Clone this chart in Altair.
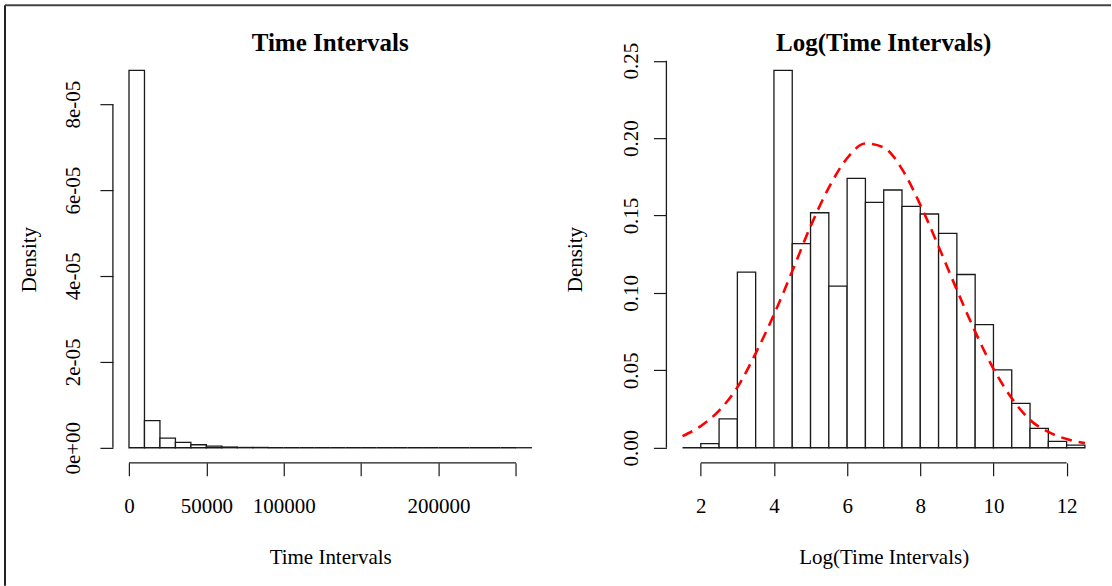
import altair as alt
import pandas as pd

# ---------------- data ----------------
# Left panel: histogram of time intervals (bin width 10000), density
time_bin_start = [0, 10000, 20000, 30000, 40000, 50000, 60000, 70000, 80000, 90000,
                  100000, 110000, 120000, 130000, 140000, 150000, 160000, 170000,
                  180000, 190000, 200000, 210000, 220000, 230000, 240000, 250000]
time_density = [8.79e-05, 6.3e-06, 2.26e-06, 1.23e-06, 7.0e-07, 4.0e-07, 1.6e-07,
                7e-08, 7e-08, 0, 0, 0, 0, 0, 0, 0, 0, 0, 0, 0, 0, 0, 0, 0, 0, 4e-09]
time_bin_width = 10000
time_x_ticks = [0, 50000, 100000, 150000, 200000, 250000]
time_x_hidden = [150000, 250000]
time_y_ticks = [0, 2e-05, 4e-05, 6e-05, 8e-05]

# Right panel: histogram of log(time intervals) (bin width 0.5), density
log_bin_start = [1.5, 2.0, 2.5, 3.0, 3.5, 4.0, 4.5, 5.0, 5.5, 6.0, 6.5, 7.0,
                 7.5, 8.0, 8.5, 9.0, 9.5, 10.0, 10.5, 11.0, 11.5, 12.0]
log_density = [0.0, 0.0026, 0.0187, 0.1134, 0.0, 0.2438, 0.1319, 0.1518, 0.1044,
               0.1740, 0.1585, 0.1665, 0.1559, 0.1510, 0.1385, 0.1119, 0.0795,
               0.0503, 0.0286, 0.0125, 0.0041, 0.0017]
log_bin_width = 0.5
log_x_ticks = [2, 4, 6, 8, 10, 12]
log_y_ticks = [0.0, 0.05, 0.10, 0.15, 0.20, 0.25]

# Red dashed fitted curve
curve_x = [1.5, 2.0, 2.5, 3.0, 3.5, 4.0, 4.5, 5.0, 5.5, 6.0, 6.5, 7.0, 7.5,
           8.0, 8.5, 9.0, 9.5, 10.0, 10.5, 11.0, 11.5, 12.0, 12.5]
curve_y = [0.0075, 0.014, 0.024, 0.039, 0.061, 0.086, 0.114, 0.143, 0.168, 0.187,
           0.1965, 0.194, 0.18, 0.157, 0.13, 0.102, 0.075, 0.051, 0.032, 0.018,
           0.0102, 0.0056, 0.003]

panel_titles = ["Time Intervals", "Log(Time Intervals)"]
x_titles = ["Time Intervals", "Log(Time Intervals)"]

# ---------------- layout / style ----------------
W, H = 435, 408
FONT = "Liberation Serif"
INK = "#1a1a1a"

time_df = pd.DataFrame({"start": time_bin_start,
                        "end": [s + time_bin_width for s in time_bin_start],
                        "density": time_density})
log_df = pd.DataFrame({"start": log_bin_start,
                       "end": [s + log_bin_width for s in log_bin_start],
                       "density": log_density})
curve_df = pd.DataFrame({"x": curve_x, "y": curve_y})
dummy = pd.DataFrame({"k": [0]})


def pad_domain(lo, hi):
    r = hi - lo
    return [lo - 0.04 * r, hi + 0.04 * r]


def x_axis(ticks, title, label_expr=None):
    kw = dict(values=ticks, format="d", domain=False, grid=False, tickSize=13,
              tickWidth=1.2, tickColor=INK, labelFont=FONT, labelFontSize=21,
              labelColor="black", labelPadding=20, labelFlush=False,
              labelOverlap=False, title=title, titleFont=FONT, titleFontSize=21,
              titleFontWeight="normal", titleColor="black", titleX=W / 2,
              titleY=95, titleAlign="center", titleBaseline="middle")
    if label_expr:
        kw["labelExpr"] = label_expr
    return alt.Axis(**kw)


def y_axis(ticks, label_expr, fmt, label_pad, title_x):
    kw = dict(values=ticks, domain=False, grid=False, tickSize=13, tickWidth=1.2,
              tickColor=INK, labelFont=FONT, labelFontSize=21, labelColor="black",
              labelAngle=270, labelAlign="center", labelBaseline="alphabetic",
              labelPadding=label_pad, labelFlush=False, labelOverlap=False,
              title="Density", titleFont=FONT, titleFontSize=21,
              titleFontWeight="normal", titleColor="black", titleAngle=270,
              titleX=title_x, titleY=H / 2, titleAlign="center",
              titleBaseline="middle")
    if label_expr:
        kw["labelExpr"] = label_expr
    if fmt:
        kw["format"] = fmt
    return alt.Axis(**kw)


def panel_title(text):
    return alt.Chart(dummy).mark_text(
        font=FONT, fontSize=25, fontWeight="bold", color="black",
        align="center", baseline="alphabetic"
    ).encode(x=alt.value(W / 2), y=alt.value(-4), text=alt.value(text))


# ---------------- left panel ----------------
tx_dom = pad_domain(time_bin_start[0], time_bin_start[-1] + time_bin_width)
ty_dom = pad_domain(0, max(time_density))
hidden_test = " || ".join(f"datum.value == {v}" for v in time_x_hidden)

tx = alt.X("start:Q", scale=alt.Scale(domain=tx_dom, nice=False, zero=False),
           axis=x_axis(time_x_ticks, x_titles[0],
                       f"({hidden_test}) ? '' : datum.label"))
ty = alt.Y("density:Q", scale=alt.Scale(domain=ty_dom, nice=False, zero=False),
           axis=y_axis(time_y_ticks,
                       "datum.value == 0 ? '0e+00' : format(datum.value * 100000, 'd') + 'e-05'",
                       None, 20, -83))

left_bars = alt.Chart(time_df).mark_rect(
    fill="white", stroke=INK, strokeWidth=1.3
).transform_calculate(zero="0").encode(
    x=tx, x2="end:Q", y=ty, y2="zero:Q")

left_xline = alt.Chart(dummy).mark_rule(color=INK, strokeWidth=1.3).encode(
    x=alt.datum(min(time_x_ticks)), x2=alt.datum(max(time_x_ticks)), y=alt.value(H))
left_yline = alt.Chart(dummy).mark_rule(color=INK, strokeWidth=1.3).encode(
    y=alt.datum(min(time_y_ticks)), y2=alt.datum(max(time_y_ticks)), x=alt.value(0))

# page frame lines seen in the reference (top and left edges)
frame_left = alt.Chart(dummy).mark_rule(color="#222222", strokeWidth=2).encode(
    x=alt.value(-108), y=alt.value(-50), y2=alt.value(531))
frame_top = alt.Chart(dummy).mark_rule(color="#444444", strokeWidth=2).encode(
    x=alt.value(-108), x2=alt.value(999), y=alt.value(-50))

left = alt.layer(left_bars, left_xline, left_yline, panel_title(panel_titles[0]),
                 frame_left, frame_top).properties(width=W, height=H)

# ---------------- right panel ----------------
lx_dom = pad_domain(log_bin_start[0], log_bin_start[-1] + log_bin_width)
ly_dom = pad_domain(0, max(log_density))

lx = alt.X("start:Q", scale=alt.Scale(domain=lx_dom, nice=False, zero=False),
           axis=x_axis(log_x_ticks, x_titles[1]))
ly = alt.Y("density:Q", scale=alt.Scale(domain=ly_dom, nice=False, zero=False),
           axis=y_axis(log_y_ticks, None, ".2f", 16, -91))

right_bars = alt.Chart(log_df).mark_rect(
    fill="white", stroke=INK, strokeWidth=1.3
).transform_calculate(zero="0").encode(
    x=lx, x2="end:Q", y=ly, y2="zero:Q")

right_curve = alt.Chart(curve_df).mark_line(
    color="red", strokeWidth=2.6, strokeDash=[11, 7], interpolate="monotone"
).encode(x=alt.X("x:Q", scale=alt.Scale(domain=lx_dom, nice=False, zero=False)),
         y=alt.Y("y:Q", scale=alt.Scale(domain=ly_dom, nice=False, zero=False)))

right_xline = alt.Chart(dummy).mark_rule(color=INK, strokeWidth=1.3).encode(
    x=alt.datum(min(log_x_ticks)), x2=alt.datum(max(log_x_ticks)), y=alt.value(H))
right_yline = alt.Chart(dummy).mark_rule(color=INK, strokeWidth=1.3).encode(
    y=alt.datum(min(log_y_ticks)), y2=alt.datum(max(log_y_ticks)), x=alt.value(0))

right = alt.layer(right_bars, right_curve, right_xline, right_yline,
                  panel_title(panel_titles[1])).properties(width=W, height=H)

chart = alt.hconcat(left, right, spacing=119, bounds="flush").properties(
    padding={"left": 4, "top": 4, "right": 0, "bottom": 0},
    background="white",
).configure_view(stroke=None)

chart.save("out.html", embed_options={"renderer": "svg", "actions": False})
